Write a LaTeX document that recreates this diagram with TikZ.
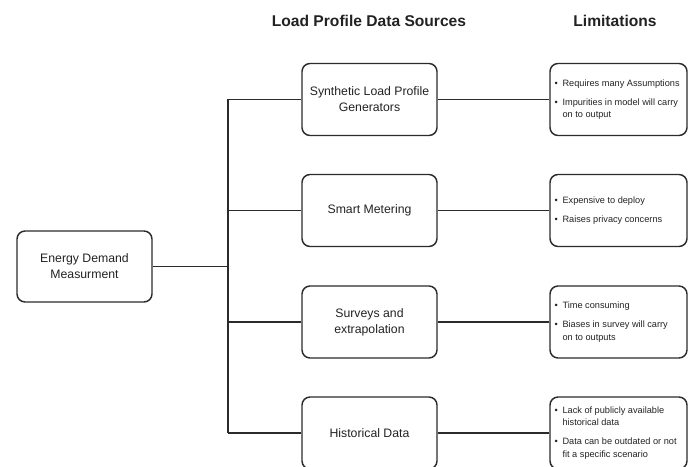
\documentclass[tikz,border=0pt]{standalone}
\usepackage{fontspec}
\setmainfont{Liberation Sans}
\definecolor{linec}{HTML}{2B2B2B}
\definecolor{textc}{HTML}{222222}
\tikzset{
  every node/.style={text=textc},
  box/.style={draw=linec, line width=1.1pt, rounded corners=6pt, minimum width=101.25pt, minimum height=54pt, inner sep=0pt},
  midtext/.style={font=\fontsize{9.2}{12}\selectfont, align=center},
  limbox/.style={draw=linec, line width=1.1pt, rounded corners=6pt, minimum width=102.75pt, minimum height=54pt, inner sep=0pt},
  limtext/.style={font=\fontsize{6.9}{9.4}\selectfont, align=left, anchor=west, inner sep=0pt},
  title/.style={font=\fontsize{11.7}{14}\selectfont\bfseries},
  conn/.style={draw=linec, line width=1.1pt}
}
\newcommand{\bul}{\makebox[6pt][l]{\textbullet}}
\newcommand{\bulsp}{\hspace*{6pt}}
\begin{document}
\begin{tikzpicture}[x=0.75pt, y=-0.75pt]
\useasboundingbox (0,0) rectangle (694,467);
% titles
\node[title] (t1) at (369,21) {Load Profile Data Sources};
\node[title] (t2) at (615,21) {Limitations};
% root
\node[box, midtext, minimum height=53.25pt] (root) at (84.5,266.5) {Energy Demand\\Measurment};
% middle
\node[box, midtext] (m1) at (369.5,99.5) {Synthetic Load Profile\\Generators};
\node[box, midtext] (m2) at (369.5,210.5) {Smart Metering};
\node[box, midtext] (m3) at (369.5,322) {Surveys and\\extrapolation};
\node[box, midtext] (m4) at (369.5,433) {Historical Data};
% limitation boxes
\node[limbox] (l1) at (618.5,99.5) {};
\node[limbox] (l2) at (618.5,210.5) {};
\node[limbox] (l3) at (618.5,322) {};
\node[limbox] (l4) at (618.5,433) {};
\node[limtext] (lt1) at ([xshift=3.75pt]l1.west) {\bul Requires many Assumptions\\[5pt]\bul Impurities in model will carry\\\bulsp on to output};
\node[limtext] (lt2) at ([xshift=3.75pt]l2.west) {\bul Expensive to deploy\\[5pt]\bul Raises privacy concerns};
\node[limtext] (lt3) at ([xshift=3.75pt]l3.west) {\bul Time consuming\\[5pt]\bul Biases in survey will carry\\\bulsp on to outputs};
\node[limtext] (lt4) at ([xshift=3.75pt]l4.west) {\bul Lack of publicly available\\\bulsp historical data\\[5pt]\bul Data can be outdated or not\\\bulsp fit a specific scenario};
% trunk
\coordinate (top) at (228,99.5);
\coordinate (mid) at (228,266.5);
\coordinate (b2) at (228,210.5);
\coordinate (b3) at (228,322);
\coordinate (bot) at (228,433);
\draw[conn] (root.east) -- (mid);
\draw[conn] (top) -- (bot);
\draw[conn] (top) -- (m1.west);
\draw[conn] (b2) -- (m2.west);
\draw[conn] (b3) -- (m3.west);
\draw[conn] (bot) -- (m4.west);
\draw[conn] (m1.east) -- (l1.west);
\draw[conn] (m2.east) -- (l2.west);
\draw[conn] (m3.east) -- (l3.west);
\draw[conn] (m4.east) -- (l4.west);
\end{tikzpicture}
\end{document}
